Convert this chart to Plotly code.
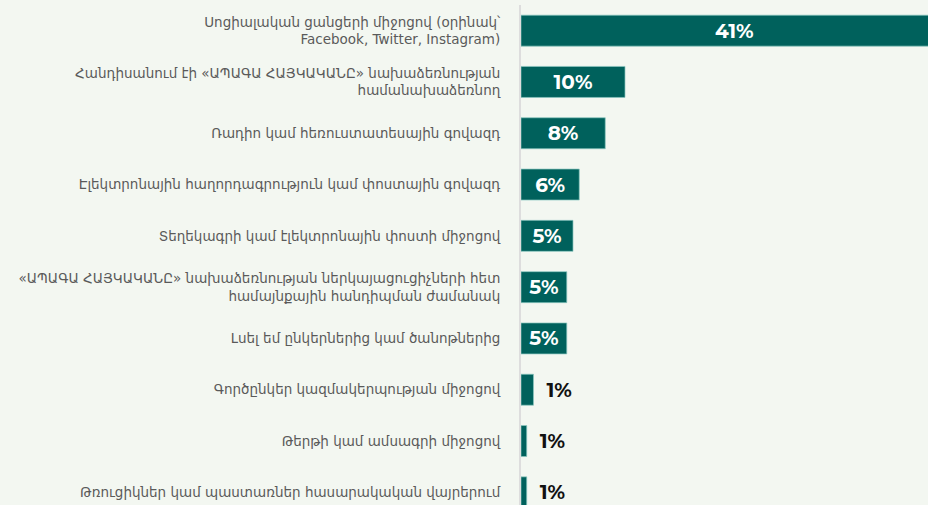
import plotly.graph_objects as go

categories = [
    "Սոցիալական ցանցերի միջոցով (օրինակ՝<br>Facebook, Twitter, Instagram)",
    "Հանդիսանում էի «ԱՊԱԳԱ ՀԱՅԿԱԿԱՆԸ» նախաձեռնության<br>համանախաձեռնող",
    "Ռադիո կամ հեռուստատեսային գովազդ",
    "Էլեկտրոնային հաղորդագրություն կամ փոստային գովազդ",
    "Տեղեկագրի կամ էլեկտրոնային փոստի միջոցով",
    "«ԱՊԱԳԱ ՀԱՅԿԱԿԱՆԸ» նախաձեռնության ներկայացուցիչների հետ<br>համայնքային հանդիպման ժամանակ",
    "Լսել եմ ընկերներից կամ ծանոթներից",
    "Գործընկեր կազմակերպության միջոցով",
    "Թերթի կամ ամսագրի միջոցով",
    "Թռուցիկներ կամ պաստառներ հասարակական վայրերում",
]
values = [41.0, 10.0, 8.1, 5.6, 5.0, 4.4, 4.4, 1.2, 0.55, 0.55]
labels = ["41%", "10%", "8%", "6%", "5%", "5%", "5%", "1%", "1%", "1%"]

idx = list(range(len(categories)))
positions = ["inside" if v >= 3 else "outside" for v in values]
texts = [t if p == "inside" else "\u2002" + t for t, p in zip(labels, positions)]

fig = go.Figure(go.Bar(
    x=values,
    y=idx,
    orientation="h",
    text=texts,
    textposition=positions,
    insidetextanchor="middle",
    insidetextfont=dict(color="white", size=20, family="Montserrat, Inter, sans-serif", weight="bold"),
    outsidetextfont=dict(color="#111111", size=20, family="Montserrat, Inter, sans-serif", weight="bold"),
    textangle=0,
    cliponaxis=True,
    constraintext="none",
    marker=dict(color="#00615c", line=dict(color="rgba(140,200,192,0.7)", width=1)),
    hoverinfo="skip",
))

fig.update_layout(
    width=928,
    height=505,
    margin=dict(l=521, r=0, t=5, b=0),
    paper_bgcolor="#f3f7f1",
    plot_bgcolor="#f3f7f1",
    bargap=0.396,
    showlegend=False,
    font=dict(family="DejaVu Sans, sans-serif", color="#555555", size=13),
)
fig.update_xaxes(range=[0, 39.13], showgrid=False, zeroline=False, showticklabels=False,
                 showline=False, fixedrange=True)
fig.update_yaxes(
    range=[9.247, -0.5],
    tickmode="array",
    tickvals=idx,
    ticktext=categories,
    showgrid=False,
    zeroline=False,
    showline=True,
    linecolor="#dddddd",
    linewidth=2,
    ticks="",
    ticklabelstandoff=16,
    tickfont=dict(family="DejaVu Sans, sans-serif", size=13.5, color="#5a5a5a"),
    fixedrange=True,
)

fig.write_html(
    "out.html",
    config={"displayModeBar": False},
    post_script="document.body.style.margin='0';document.body.style.background='#f3f7f1';",
)
